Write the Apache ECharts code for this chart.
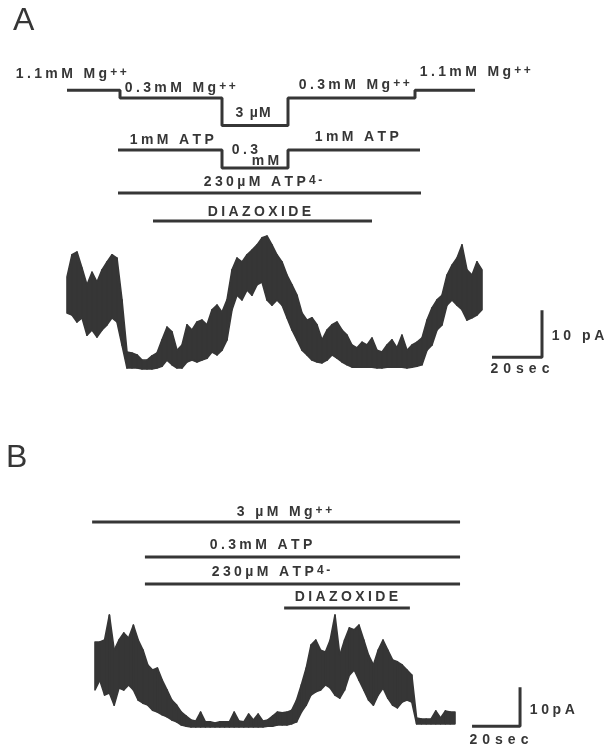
<!DOCTYPE html>
<html>
<head>
<meta charset="utf-8">
<script src="https://cdn.jsdelivr.net/npm/echarts@6/dist/echarts.min.js"></script>
<style>
  html, body { margin: 0; background: #fff; }
  #chart { width: 610px; height: 748px; }
</style>
</head>
<body>
<div id="chart"></div>
<script>
// ---- panel A: solution protocol (times in s, concentrations in mM) ----
const mgTimesA = [0, 21.2, 62, 88.4, 139.2, 163.2];
const mgConcA = [1.1, 0.3, 0.003, 0.3, 1.1];
const atpTimesA = [20.4, 62, 88.4, 141.2];
const atpConcA = [1, 0.3, 1];
const atp4SpanA = [20.4, 141.6];
const diazSpanA = [34.4, 122];

// ---- panel A: current trace, min/max envelope every 2 s (pA) ----
const timeA = [0, 2, 4, 6, 8, 10, 12, 14, 16, 18, 20, 22, 24, 26, 28, 30, 32, 34, 36, 38,
  40, 42, 44, 46, 48, 50, 52, 54, 56, 58, 60, 62, 64, 66, 68, 70, 72, 74, 76, 78,
  80, 82, 84, 86, 88, 90, 92, 94, 96, 98, 100, 102, 104, 106, 108, 110, 112, 114, 116, 118,
  120, 122, 124, 126, 128, 130, 132, 134, 136, 138, 140, 142, 144, 146, 148, 150, 152, 154, 156, 158,
  160, 162, 164, 166];
const topA = [19.6, 24.3, 24.9, 21.5, 17.9, 20.6, 18.5, 21.1, 22.8, 24.3,
  23.6, 14.7, 3.6, 3.4, 3.0, 1.9, 1.9, 2.8, 3.4, 6.2,
  8.9, 7.9, 4.0, 5.1, 9.4, 8.3, 10.0, 10.4, 9.4, 12.6,
  13.6, 12.1, 14.7, 21.1, 23.6, 22.8, 24.3, 25.3, 26.4, 27.9,
  28.3, 26.4, 24.3, 22.8, 20.0, 17.9, 15.7, 11.9, 10.4, 10.9,
  9.4, 6.2, 8.3, 9.4, 10.0, 8.3, 7.2, 5.1, 4.5, 5.7,
  5.1, 6.6, 4.0, 3.6, 5.1, 6.2, 4.5, 7.2, 4.0, 5.1,
  5.7, 6.6, 10.4, 13.0, 14.7, 15.7, 20.0, 22.1, 23.6, 26.4,
  21.1, 20.0, 22.8, 21.1];
const botA = [11.9, 11.5, 10.0, 10.9, 7.2, 8.3, 6.8, 8.3, 9.4, 10.9,
  10.0, 5.1, 0.2, 0.2, 0.2, 0, 0, 0, 0.2, 0.6,
  1.9, 0.9, 0.2, 0.2, 1.5, 1.9, 1.5, 1.9, 2.3, 3.6,
  3.0, 4.0, 6.2, 12.6, 15.7, 14.7, 16.8, 15.7, 17.9, 18.5,
  14.7, 13.6, 14.7, 13.6, 10.9, 8.3, 6.2, 4.0, 3.0, 1.9,
  1.5, 1.3, 1.9, 3.0, 2.3, 1.5, 0.9, 0.4, 0.4, 0.4,
  0.4, 0.4, 0.2, 0.2, 0.4, 0.4, 0.4, 0.4, 0.2, 0.4,
  0.6, 0.9, 4.0, 5.1, 8.3, 9.4, 13.6, 14.7, 13.6, 12.6,
  10.4, 10.9, 11.5, 12.6];

// ---- panel B: solution protocol ----
const mgSpanB = [-1.2, 152.1];
const atpSpanB = [20.8, 152.1];
const atp4SpanB = [20.8, 152.1];
const diazSpanB = [78.8, 131.2];

// ---- panel B: current trace envelope ----
const timeB = [0, 2, 4, 6, 8, 10, 12, 14, 16, 18, 20, 22, 24, 26, 28, 30, 32, 34, 36, 38,
  40, 42, 44, 46, 48, 50, 52, 54, 56, 58, 60, 62, 64, 66, 68, 70, 72, 74, 76, 78,
  80, 82, 84, 86, 88, 90, 92, 94, 96, 98, 100, 102, 104, 106, 108, 110, 112, 114, 116, 118,
  120, 122, 124, 126, 128, 130, 132, 134, 136, 138, 140, 142, 144, 146, 148, 150];
const topB = [21.3, 21.3, 21.8, 28.2, 19.2, 21.8, 23.6, 22.3, 25.6, 21.8,
  19.2, 15.4, 14.1, 14.6, 11.5, 9.0, 6.4, 5.1, 3.3, 2.3,
  1.3, 1.0, 3.3, 0.8, 0.8, 0.5, 0.8, 0.8, 0.8, 3.3,
  1.0, 0.8, 2.8, 1.3, 2.8, 1.0, 1.3, 2.3, 3.3, 3.1,
  3.3, 3.8, 6.4, 10.3, 14.6, 20.5, 21.8, 19.2, 18.7, 21.8,
  28.2, 17.9, 21.8, 24.9, 24.4, 25.6, 21.8, 17.9, 15.4, 19.2,
  21.8, 19.2, 16.7, 16.2, 15.4, 14.1, 12.8, 1.8, 1.5, 1.5,
  1.5, 3.6, 1.8, 3.6, 3.3, 3.3];
const botB = [9.0, 11.5, 7.7, 8.2, 5.1, 9.5, 9.0, 10.3, 9.0, 6.4,
  5.6, 5.1, 3.8, 3.3, 2.6, 2.1, 1.3, 0.8, 0, -0.3,
  -0.5, -0.5, -0.5, -0.5, -0.5, -0.5, -0.5, -0.5, -0.5, -0.5,
  -0.5, -0.5, -0.5, -0.5, -0.5, -0.5, -0.3, -0.3, 0, 0,
  0, 0.3, 0.8, 3.3, 5.1, 7.7, 8.5, 9.0, 10.3, 9.5,
  7.7, 6.9, 9.0, 12.8, 14.1, 11.5, 9.0, 6.4, 5.1, 7.7,
  9.5, 6.9, 5.1, 4.4, 5.9, 6.4, 5.9, 0.3, 0.3, 0.3,
  0.3, 0.3, 0.3, 0.3, 0.3, 0.3];

// scale bars
const scaleSec = 20;
const scalePA = 10;

// ---- layout ----
const INK = '#363636';
const FONT = '"Liberation Sans", Arial, sans-serif';
const AX = { left: 67, width: 500, min: 0, max: 200 };   // 2.5 px per s
const BX = { left: 83, width: 480, min: -5, max: 195 };  // 2.4 px per s

const grids = [], xAxes = [], yAxes = [], series = [];

function addGrid(px, top, height, yAxis) {
  grids.push({ left: px.left, width: px.width, top: top, height: height });
  const i = grids.length - 1;
  xAxes.push({ type: 'value', gridIndex: i, min: px.min, max: px.max, show: false });
  yAxes.push(Object.assign({ gridIndex: i, show: false }, yAxis));
  return i;
}

const barLine = { color: INK, width: 3 };

function stepLine(idx, times, conc) {
  const pts = times.map((t, i) => [t, conc[Math.min(i, conc.length - 1)]]);
  series.push({ type: 'line', xAxisIndex: idx, yAxisIndex: idx, data: pts, step: 'end',
    symbol: 'none', lineStyle: barLine, clip: false, silent: true });
}

function flatLine(idx, span) {
  series.push({ type: 'line', xAxisIndex: idx, yAxisIndex: idx, data: span.map(t => [t, 0]),
    symbol: 'none', lineStyle: barLine, clip: false, silent: true });
}

// noisy record drawn as the band between the min and max envelopes
function trace(idx, time, bot, top) {
  const n = time.length;
  series.push({
    type: 'custom', xAxisIndex: idx, yAxisIndex: idx, clip: false, silent: true,
    data: time.map((t, i) => [t, bot[i], top[i]]),
    encode: { x: 0, y: [1, 2] },
    renderItem: function (params, api) {
      const i = params.dataIndexInside;
      if (i >= n - 1) return null;
      const t0 = api.value(0, i), t1 = api.value(0, i + 1);
      const pts = [
        api.coord([t0, api.value(2, i)]),
        api.coord([t1, api.value(2, i + 1)]),
        api.coord([t1, api.value(1, i + 1)]),
        api.coord([t0, api.value(1, i)])
      ];
      return { type: 'polygon', shape: { points: pts },
        style: { fill: INK, stroke: INK, lineWidth: 1.6, lineJoin: 'round' } };
    }
  });
}

function scaleBar(idx, t0, y0) {
  series.push({ type: 'line', xAxisIndex: idx, yAxisIndex: idx, symbol: 'none', clip: false, silent: true,
    data: [[t0, y0], [t0 + scaleSec, y0], [t0 + scaleSec, y0 + scalePA]],
    lineStyle: { color: INK, width: 3 } });
}

// panel A
const gMgA = addGrid(AX, 77, 55, { type: 'log', min: 0.001, max: 10 });
const gAtpA = addGrid(AX, 115.6, 68.8, { type: 'log', min: 0.1, max: 10 });
const gAtp4A = addGrid(AX, 188, 10, { type: 'category', data: ['ATP4-'], inverse: true });
const gDiazA = addGrid(AX, 216, 10, { type: 'category', data: ['diazoxide'], inverse: true });
const gTraceA = addGrid(AX, 228, 150.4, { type: 'value', min: -2, max: 30 });
stepLine(gMgA, mgTimesA, mgConcA);
stepLine(gAtpA, atpTimesA, atpConcA);
flatLine(gAtp4A, atp4SpanA);
flatLine(gDiazA, diazSpanA);
trace(gTraceA, timeA, botA, topA);
scaleBar(gTraceA, 170, 2.5);

// panel B
const gMgB = addGrid(BX, 517, 10, { type: 'category', data: ['Mg'], inverse: true });
const gAtpB = addGrid(BX, 552, 10, { type: 'category', data: ['ATP'], inverse: true });
const gAtp4B = addGrid(BX, 579, 10, { type: 'category', data: ['ATP4-'], inverse: true });
const gDiazB = addGrid(BX, 603, 10, { type: 'category', data: ['diazoxide'], inverse: true });
const gTraceB = addGrid(BX, 600.2, 132.6, { type: 'value', min: -2, max: 32 });
flatLine(gMgB, mgSpanB);
flatLine(gAtpB, atpSpanB);
flatLine(gAtp4B, atp4SpanB);
flatLine(gDiazB, diazSpanB);
trace(gTraceB, timeB, botB, topB);
scaleBar(gTraceB, 157.1, -0.3);

// ---- text ----
// letters are spread out one rich segment per character, superscript raised
function label(x, yc, main, sup, gap) {
  gap = gap == null ? 1.7 : gap;
  let text = main.split('').map(c => '{c|' + c + '}').join('');
  if (sup) text += sup.split('').map(c => '{s|' + c + '}').join('');
  return {
    type: 'text', x: x, y: yc + 7, silent: true,
    style: {
      text: text, align: 'left', verticalAlign: 'bottom',
      fontFamily: 'Liberation Sans', fontWeight: 700, fontSize: 14, fill: INK,
      rich: {
        c: { fontFamily: 'Liberation Sans', fontWeight: 700, fontSize: 14, fill: INK,
             padding: [0, gap], lineHeight: 14, verticalAlign: 'bottom' },
        s: { fontFamily: 'Liberation Sans', fontWeight: 700, fontSize: 12, fill: INK,
             padding: [0, 1.3, 8, 1.3], lineHeight: 12, verticalAlign: 'top' }
      }
    }
  };
}

function bigLetter(x, y, ch) {
  return { type: 'text', x: x, y: y, silent: true,
    style: { text: ch, fontFamily: 'Liberation Sans', fontSize: 32, fill: INK, align: 'left', verticalAlign: 'top' } };
}

const texts = [
  bigLetter(13, 5, 'A'),
  label(14, 74, '1.1mM Mg', '++'),
  label(123, 88, '0.3mM Mg', '++'),
  label(235, 113, '3 µM', null, 0.6),
  label(297, 85, '0.3mM Mg', '++'),
  label(418, 72, '1.1mM Mg', '++'),
  label(128, 140, '1mM ATP'),
  label(230, 150, '0.3'),
  label(250, 161, 'mM'),
  label(313, 137, '1mM ATP'),
  label(202, 182, '230µM ATP', '4-'),
  label(206, 212, 'DIAZOXIDE'),
  label(550, 336, '10 pA', null, 1.8),
  label(488, 369, '20sec', null, 2.5),

  bigLetter(6, 442, 'B'),
  label(235, 512, '3 µM Mg', '++'),
  label(208, 545, '0.3mM ATP'),
  label(210, 572, '230µM ATP', '4-'),
  label(293, 597, 'DIAZOXIDE'),
  label(528, 710, '10pA', null, 1.8),
  label(467, 740, '20sec', null, 2.5)
];

const chart = echarts.init(document.getElementById('chart'));
chart.setOption({
  animation: false,
  backgroundColor: '#ffffff',
  grid: grids,
  xAxis: xAxes,
  yAxis: yAxes,
  series: series,
  graphic: texts
});
window.addEventListener('resize', function () { chart.resize(); });
</script>
</body>
</html>
